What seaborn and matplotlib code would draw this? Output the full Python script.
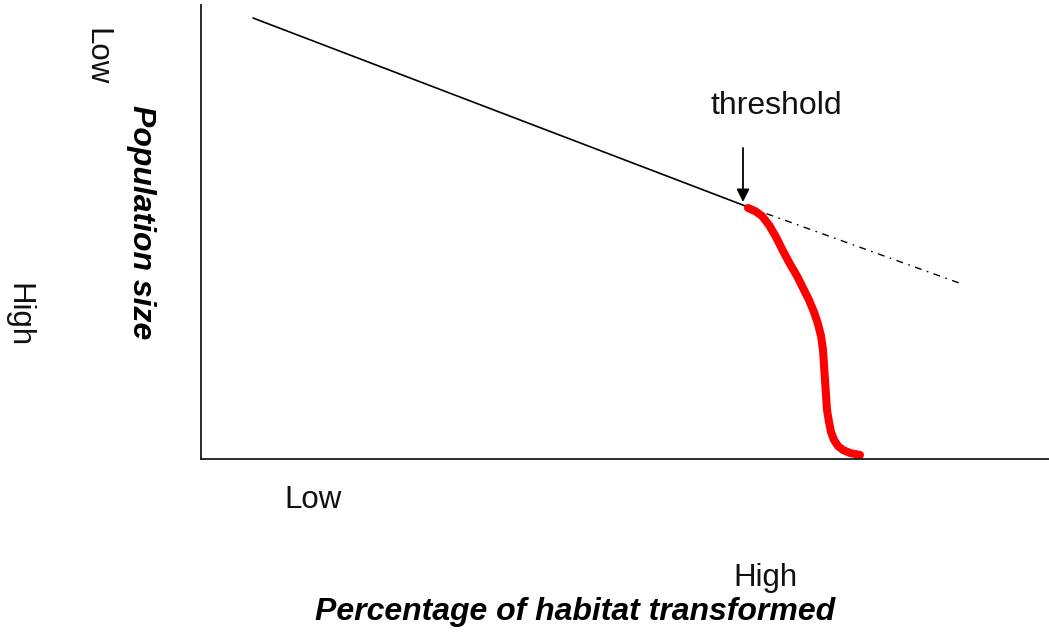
import matplotlib
matplotlib.use("Agg")
import matplotlib.pyplot as plt
import seaborn as sns
import pandas as pd

# Conceptual curves (x: habitat transformed, y: height above x-axis), in axis units
trend_x = [52, 547]
trend_y = [441, 252]
extrap_x = [547, 761]
extrap_y = [252, 175]
collapse_x = [547, 554, 561, 568, 575, 582, 589, 596, 602, 608, 613, 617, 620,
              622, 623, 624, 625, 626, 628, 630, 633, 637, 642, 649, 659]
collapse_y = [251, 248, 243, 234, 222, 208, 195, 183, 171, 159, 147, 135, 123,
              109, 94, 79, 64, 49, 37, 27, 19, 13, 9, 6, 4]
threshold_x = 542
threshold_label = "threshold"

sns.set_theme(style="white")
plt.rcParams['font.family'] = ['Liberation Sans', 'DejaVu Sans']

W, H = 1049, 632
fig = plt.figure(figsize=(W / 100, H / 100), dpi=100)
ax = fig.add_axes([201 / W, (H - 459) / H, (W - 201) / W, (459 - 5) / H])

sns.lineplot(data=pd.DataFrame({"x": trend_x, "y": trend_y}), x="x", y="y",
             ax=ax, color="black", linewidth=1.2, sort=False)
sns.lineplot(data=pd.DataFrame({"x": extrap_x, "y": extrap_y}), x="x", y="y",
             ax=ax, color="black", linewidth=1.0, sort=False,
             linestyle=(0, (5, 4, 1.2, 4)))
sns.lineplot(data=pd.DataFrame({"x": collapse_x, "y": collapse_y}), x="x", y="y",
             ax=ax, color="#ff0000", linewidth=5.8, sort=False,
             solid_capstyle="round", solid_joinstyle="round")

ax.set_xlim(0, W - 201)
ax.set_ylim(0, 459 - 5)
ax.set_xticks([])
ax.set_yticks([])
ax.set_xlabel("")
ax.set_ylabel("")
for s in ["top", "right"]:
    ax.spines[s].set_visible(False)
for s in ["left", "bottom"]:
    ax.spines[s].set_color("#1a1a1a")
    ax.spines[s].set_linewidth(1.3)

ax.annotate("", xy=(threshold_x, 257), xytext=(threshold_x, 311),
            arrowprops=dict(arrowstyle="-|>", color="black", lw=1.3,
                            mutation_scale=19, shrinkA=0, shrinkB=0))
ax.text(threshold_x + 33, 353, threshold_label, ha="center", va="center",
        fontsize=23, color="#111111")


def px(x, y):
    return x / W, 1 - y / H


fig.text(*px(96, 57), "Low", rotation=270, ha="center", va="center",
         fontsize=22.5, color="#111111")
fig.text(*px(18, 315), "High", rotation=270, ha="center", va="center",
         fontsize=22.5, color="#111111")
fig.text(*px(141, 222), "Population size", rotation=270, ha="center", va="center",
         fontsize=23, fontweight="bold", fontstyle="italic", color="black")
fig.text(*px(313, 500), "Low", ha="center", va="center",
         fontsize=22.5, color="#111111")
fig.text(*px(765, 578), "High", ha="center", va="center",
         fontsize=22.5, color="#111111")
fig.text(*px(575, 612), "Percentage of habitat transformed", ha="center", va="center",
         fontsize=23, fontweight="bold", fontstyle="italic", color="black")

fig.savefig("out.png", dpi=100)
